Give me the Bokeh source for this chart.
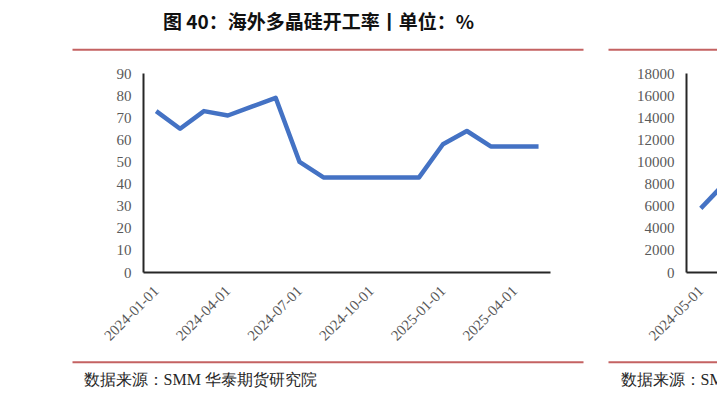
import math
from bokeh.plotting import figure
from bokeh.models import Range1d, FixedTicker, Label, BoxAnnotation
from bokeh.layouts import row, column
from bokeh.embed import file_html
from bokeh.resources import INLINE

# ---- data: chart 1 (海外多晶硅开工率, %) ----
months = ["2024-01", "2024-02", "2024-03", "2024-04", "2024-05", "2024-06",
          "2024-07", "2024-08", "2024-09", "2024-10", "2024-11", "2024-12",
          "2025-01", "2025-02", "2025-03", "2025-04", "2025-05"]
rate = [73, 65, 73, 71, 75, 79, 50, 43, 43, 43, 43, 43, 58, 64, 57, 57, 57]
x_tick_labels = ["2024-01-01", "2024-04-01", "2024-07-01", "2024-10-01", "2025-01-01", "2025-04-01"]
y_ticks = [0, 10, 20, 30, 40, 50, 60, 70, 80, 90]

# ---- data: chart 2 (partially visible at the right edge) ----
months2 = ["2024-05", "2024-06"]
vals2 = [5800, 7700]
x_tick_labels2 = ["2024-05-01"]
y_ticks2 = [0, 2000, 4000, 6000, 8000, 10000, 12000, 14000, 16000, 18000]

title1 = "图 40：海外多晶硅开工率丨单位：%"
source = "数据来源：SMM  华泰期货研究院"

BLUE = "#4472C4"
RED = "#C46262"
AXIS = "#262626"
LABEL = "#595959"
SERIF = "Liberation Serif"
CJK = "Noto Sans CJK SC"

W = 717
TOP_H = 60
MID_H = 296
BOT_H = 42


def strip(height):
    s = figure(width=W, height=height, output_backend="svg", toolbar_location=None,
               x_range=Range1d(0, W), y_range=Range1d(0, height),
               x_axis_location=None, y_axis_location=None,
               min_border=0, min_border_left=0, min_border_right=0,
               min_border_top=0, min_border_bottom=0)
    s.outline_line_color = None
    s.xgrid.visible = False
    s.ygrid.visible = False
    s.background_fill_color = "white"
    s.border_fill_color = "white"
    return s


def hline(s, left, right, y):
    s.add_layout(BoxAnnotation(left=left, right=right, bottom=y - 1, top=y + 1,
                               left_units="screen", right_units="screen",
                               bottom_units="screen", top_units="screen",
                               fill_color=RED, fill_alpha=1, line_color=None))


def style(p):
    p.outline_line_color = None
    p.xgrid.visible = False
    p.ygrid.visible = False
    p.background_fill_color = "white"
    p.border_fill_color = "white"
    for ax in (p.xaxis, p.yaxis):
        ax.axis_line_color = AXIS
        ax.axis_line_width = 2
        ax.major_tick_line_color = None
        ax.minor_tick_line_color = None
        ax.major_tick_out = 0
        ax.major_tick_in = 0
        ax.major_label_text_font = SERIF
        ax.major_label_text_font_size = "15px"
        ax.major_label_text_color = LABEL
    p.yaxis.major_label_standoff = 12
    p.xaxis.major_label_standoff = 16
    p.xaxis.major_label_orientation = math.pi / 4


# ---- top strip: title and red rules ----
top = strip(TOP_H)
top.add_layout(Label(x=318, y=TOP_H - 20, x_units="screen", y_units="screen", text=title1,
                     text_font=CJK, text_font_style="bold", text_font_size="19px",
                     text_color="#111111", text_align="center", text_baseline="middle"))
hline(top, 72, 583, TOP_H - 49.3)
hline(top, 608, W, TOP_H - 49.3)

# ---- figure 1 ----
idx = list(range(len(months)))
p1 = figure(width=590, height=MID_H, output_backend="svg", toolbar_location=None,
            x_range=Range1d(-0.53, 16.5), y_range=Range1d(0, 90),
            min_border_left=143, min_border_right=40, min_border_top=13, min_border_bottom=84)
style(p1)
p1.line(idx, rate, line_color=BLUE, line_width=4.5, line_join="round")
tick_pos = [months.index(t[:7]) for t in x_tick_labels]
p1.xaxis.ticker = FixedTicker(ticks=tick_pos)
p1.xaxis.major_label_overrides = {i: t for i, t in zip(tick_pos, x_tick_labels)}
p1.yaxis.ticker = FixedTicker(ticks=y_ticks)

# ---- figure 2 (cut off at the right edge) ----
idx2 = list(range(len(months2)))
p2 = figure(width=W - 590, height=MID_H, output_backend="svg", toolbar_location=None,
            x_range=Range1d(-0.715, 0.835), y_range=Range1d(0, 18000),
            min_border_left=96, min_border_right=0, min_border_top=13, min_border_bottom=84)
style(p2)
p2.line(idx2, vals2, line_color=BLUE, line_width=4.5, line_join="round")
tick_pos2 = [months2.index(t[:7]) for t in x_tick_labels2]
p2.xaxis.ticker = FixedTicker(ticks=tick_pos2)
p2.xaxis.major_label_overrides = {i: t for i, t in zip(tick_pos2, x_tick_labels2)}
p2.yaxis.ticker = FixedTicker(ticks=y_ticks2)

# ---- bottom strip: red rules and sources ----
bot = strip(BOT_H)
hline(bot, 72, 583, BOT_H - 5.7)
hline(bot, 608, W, BOT_H - 5.7)
bot.add_layout(Label(x=83, y=BOT_H - 23, x_units="screen", y_units="screen", text=source,
                     text_font=SERIF, text_font_size="16px",
                     text_color="#262626", text_align="left", text_baseline="middle"))
bot.add_layout(Label(x=620, y=BOT_H - 23, x_units="screen", y_units="screen", text=source,
                     text_font=SERIF, text_font_size="16px",
                     text_color="#262626", text_align="left", text_baseline="middle"))

layout = column(top, row(p1, p2), bot)
open("out.html", "w").write(file_html(layout, INLINE))
